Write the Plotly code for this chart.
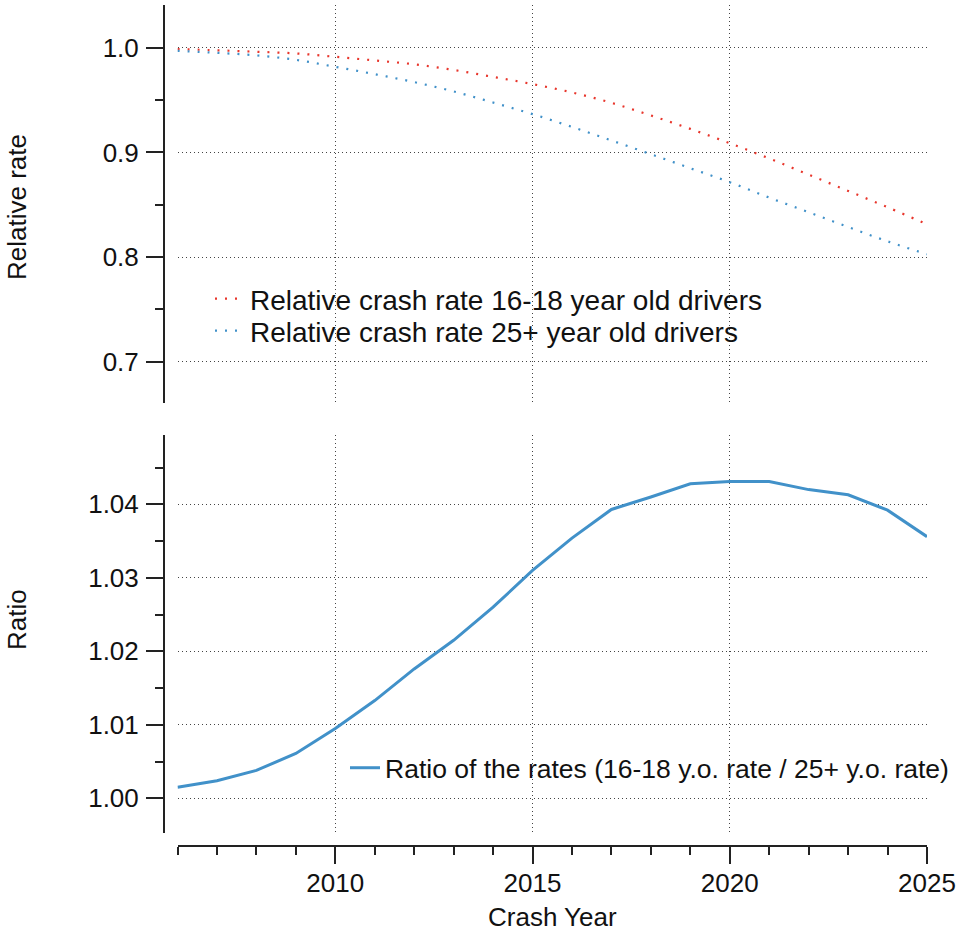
import plotly.graph_objects as go

years = list(range(2006, 2026))

rate_16_18 = [0.9988, 0.9976, 0.9962, 0.9946, 0.9914, 0.9879, 0.9842, 0.9788, 0.9722, 0.9653,
              0.9573, 0.9474, 0.9353, 0.9225, 0.9088, 0.8942, 0.8788, 0.8632, 0.8476, 0.8313]
rate_25_plus = [0.9971, 0.9952, 0.9927, 0.9885, 0.9818, 0.9748, 0.9672, 0.9583, 0.9477, 0.9366,
                0.9244, 0.9114, 0.8983, 0.8849, 0.8715, 0.8568, 0.8428, 0.8287, 0.8150, 0.8026]
ratio = [1.0015, 1.0024, 1.0038, 1.0061, 1.0095, 1.0133, 1.0176, 1.0215, 1.0260, 1.0310,
         1.0354, 1.0393, 1.0410, 1.0428, 1.0431, 1.0431, 1.0420, 1.0413, 1.0392, 1.0356]

top_ticks = [0.7, 0.8, 0.9, 1.0]
top_ticktext = ["0.7", "0.8", "0.9", "1.0"]
bot_ticks = [1.00, 1.01, 1.02, 1.03, 1.04]
bot_ticktext = ["1.00", "1.01", "1.02", "1.03", "1.04"]
x_ticks = [2010, 2015, 2020, 2025]

RED = "#e8362c"
BLUE = "#4191c9"
FONT = "Liberation Sans, Arial, sans-serif"
AX = "#222222"
GRID = "#444444"

W, H = 957, 934

fig = go.Figure()
fig.add_trace(go.Scatter(x=years, y=rate_16_18, mode="lines", line_shape="spline",
                         line=dict(color=RED, width=2.2, dash="2px,8px"),
                         name="Relative crash rate 16-18 year old drivers",
                         xaxis="x", yaxis="y", legend="legend"))
fig.add_trace(go.Scatter(x=years, y=rate_25_plus, mode="lines", line_shape="spline",
                         line=dict(color=BLUE, width=2.2, dash="2px,8px"),
                         name="Relative crash rate 25+ year old drivers",
                         xaxis="x", yaxis="y", legend="legend3"))
fig.add_trace(go.Scatter(x=years, y=ratio, mode="lines",
                         line=dict(color=BLUE, width=3),
                         name="Ratio of the rates (16-18 y.o. rate / 25+ y.o. rate)",
                         xaxis="x2", yaxis="y2", legend="legend2"))

xdom = [177.5 / W, 927 / W]
ypos = 164 / W

grid_common = dict(showgrid=True, gridcolor=GRID, gridwidth=1, griddash="1px,3px", zeroline=False)

leg_common = dict(xanchor="left", yanchor="middle", bgcolor="rgba(0,0,0,0)", borderwidth=0)

fig.update_layout(
    width=W, height=H, autosize=False,
    margin=dict(l=0, r=0, t=0, b=0, autoexpand=False),
    paper_bgcolor="white", plot_bgcolor="white",
    font=dict(family=FONT, size=26, color="#111111"),
    showlegend=True,
    xaxis=dict(domain=xdom, range=[2006, 2025], anchor="y", tickvals=x_ticks,
               showticklabels=False, ticks="", showline=False, **grid_common),
    yaxis=dict(domain=[1 - 403.3 / H, 1 - 5 / H], range=[0.6602, 1.0409], anchor="free",
               position=ypos, tickvals=top_ticks, ticktext=top_ticktext,
               ticks="outside", ticklen=17, tickwidth=2, tickcolor=AX, ticklabelstandoff=2,
               showline=True, linewidth=2, linecolor=AX,
               minor=dict(tickvals=[0.75, 0.85, 0.95], ticks="outside", ticklen=8,
                          tickwidth=2, tickcolor=AX, showgrid=False),
               **grid_common),
    xaxis2=dict(domain=xdom, range=[2006, 2025], anchor="free", position=1 - 845.7 / H,
                tickvals=x_ticks, ticks="outside", ticklen=17, tickwidth=2, tickcolor=AX,
                ticklabelstandoff=-3,
                showline=True, linewidth=2, linecolor=AX,
                minor=dict(tickvals=years, ticks="outside", ticklen=8, tickwidth=2,
                           tickcolor=AX, showgrid=False),
                **grid_common),
    yaxis2=dict(domain=[1 - 833.3 / H, 1 - 435 / H], range=[0.99524, 1.04943], anchor="free",
                position=ypos, tickvals=bot_ticks, ticktext=bot_ticktext,
                ticks="outside", ticklen=17, tickwidth=2, tickcolor=AX, ticklabelstandoff=2,
                showline=True, linewidth=2, linecolor=AX,
                minor=dict(tickvals=[0.995, 1.005, 1.015, 1.025, 1.035, 1.045], ticks="outside",
                           ticklen=8, tickwidth=2, tickcolor=AX, showgrid=False),
                **grid_common),
    legend=dict(x=210 / W, y=1 - 299 / H, font=dict(size=28), **leg_common),
    legend3=dict(x=210 / W, y=1 - 331 / H, font=dict(size=28), **leg_common),
    legend2=dict(x=345 / W, y=1 - 768 / H, font=dict(size=26.5), **leg_common),
    annotations=[
        dict(text="Relative rate", x=17 / W, y=1 - 207 / H, xref="paper", yref="paper",
             textangle=-90, showarrow=False, xanchor="center", yanchor="middle",
             font=dict(size=26)),
        dict(text="Ratio", x=17 / W, y=1 - 620 / H, xref="paper", yref="paper",
             textangle=-90, showarrow=False, xanchor="center", yanchor="middle",
             font=dict(size=26)),
        dict(text="Crash Year", x=552 / W, y=1 - 917 / H, xref="paper", yref="paper",
             showarrow=False, xanchor="center", yanchor="middle", font=dict(size=26)),
    ],
)

post = (
    "document.documentElement.style.margin='0';"
    "document.documentElement.style.overflow='hidden';"
    "document.body.style.margin='0';document.body.style.padding='0';"
    "document.body.style.overflow='hidden';"
    "var gd=document.getElementById('{plot_id}');"
    "gd.style.width='957px';gd.style.height='934px';"
    "Plotly.relayout(gd,{width:957,height:934});"
)

fig.write_html("out.html", post_script=post, config={"displayModeBar": False})
